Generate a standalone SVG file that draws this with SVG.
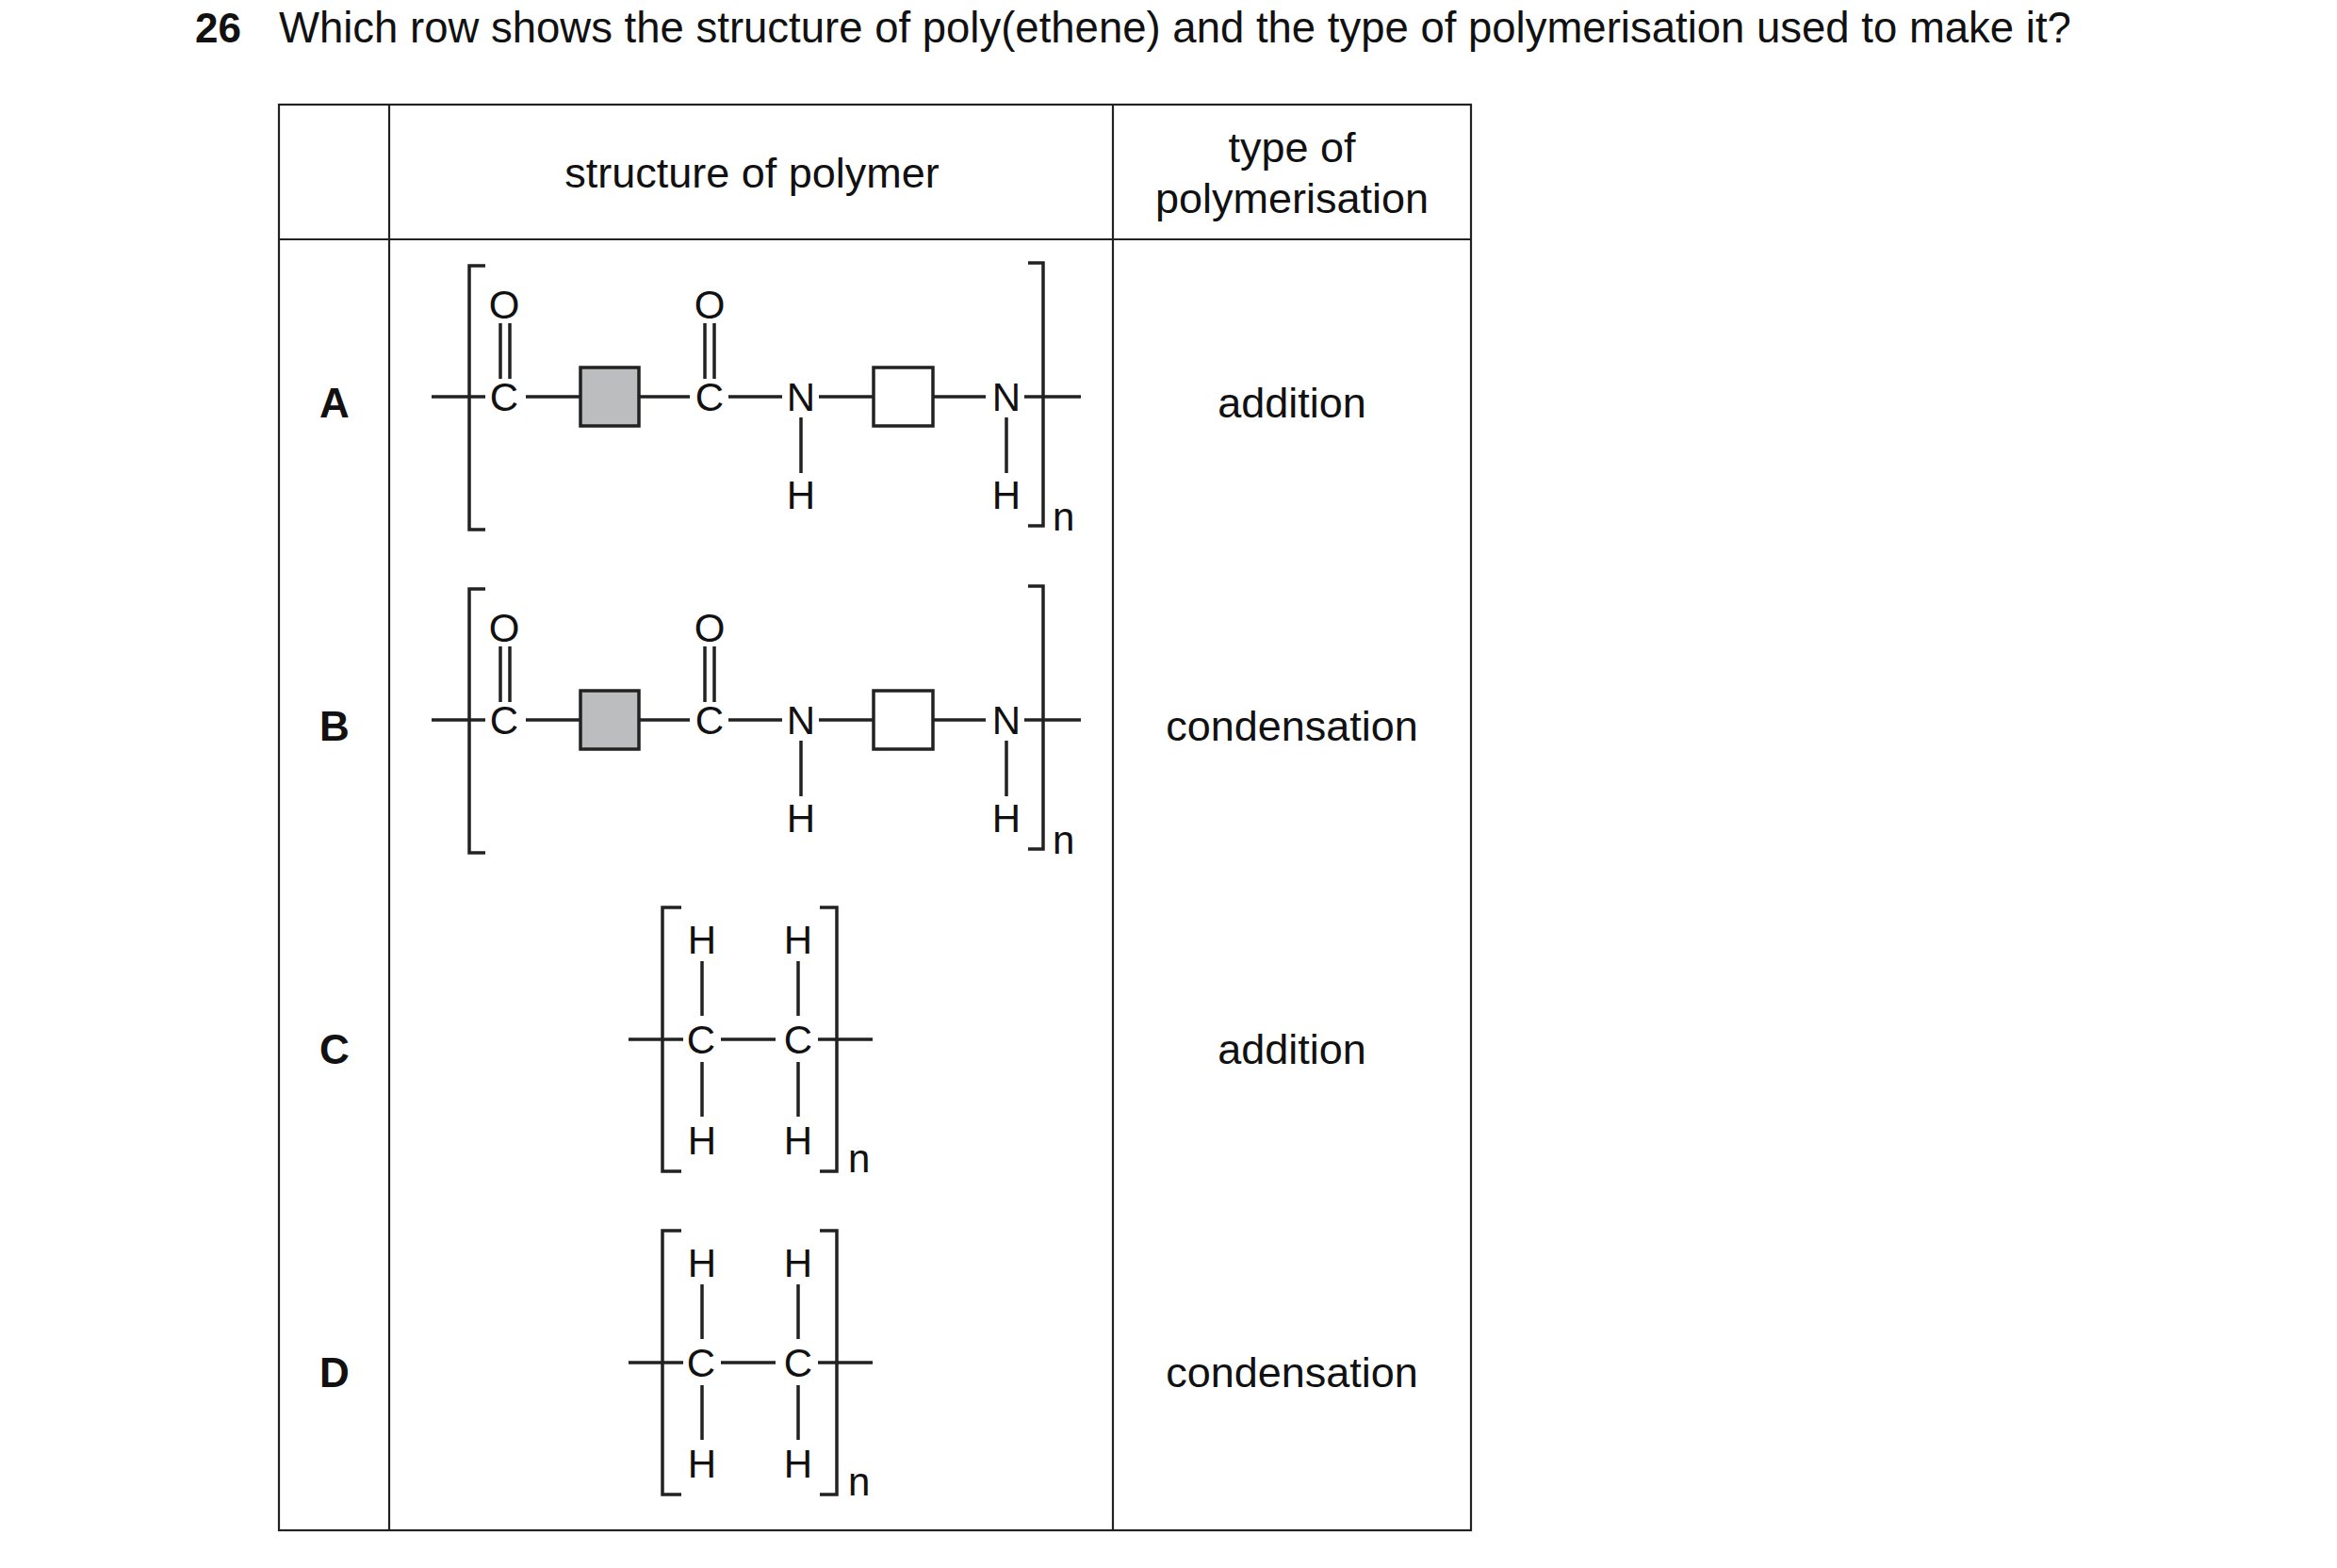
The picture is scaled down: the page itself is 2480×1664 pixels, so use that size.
<svg xmlns="http://www.w3.org/2000/svg" width="2480" height="1664" viewBox="0 0 2480 1664">
<style>
text{font-family:"Liberation Sans",Arial,sans-serif;fill:#111}
.t{font-size:45px}
.l{font-size:44px;font-weight:bold;text-anchor:middle}
.a{font-size:42px;text-anchor:middle;dominant-baseline:central}
.b{stroke:#222;stroke-width:3.5;fill:none}
.g{stroke:#222;stroke-width:2.2;fill:none}
</style>
<rect width="2480" height="1664" fill="#fff"/>
<text x="207" y="45" style="font-size:44px;font-weight:bold">26</text>
<text x="296" y="45" style="font-size:45.5px">Which row shows the structure of poly(ethene) and the type of polymerisation used to make it?</text>
<g id="table" class="g">
<rect x="296" y="111" width="1265" height="1513"/>
<line x1="413" y1="111" x2="413" y2="1624"/>
<line x1="1181" y1="111" x2="1181" y2="1624"/>
<line x1="296" y1="254" x2="1561" y2="254"/>
</g>
<g id="header" class="t" text-anchor="middle">
<text x="798" y="199">structure of polymer</text>
<text x="1371" y="172">type of</text>
<text x="1371" y="226">polymerisation</text>
</g>
<defs>
<g id="amide">
<polyline class="b" points="515,282 498,282 498,562 515,562"/>
<polyline class="b" points="1091,279 1107,279 1107,558 1091,558"/>
<line class="b" x1="458" y1="421" x2="515" y2="421"/>
<text class="a" x="535" y="421">C</text>
<text class="a" x="535" y="323">O</text>
<line class="b" x1="531" y1="343" x2="531" y2="402"/>
<line class="b" x1="541" y1="343" x2="541" y2="402"/>
<line class="b" x1="558" y1="421" x2="616" y2="421"/>
<rect x="616" y="390" width="62" height="62" fill="#bcbdbf" stroke="#222" stroke-width="3.5"/>
<line class="b" x1="678" y1="421" x2="732" y2="421"/>
<text class="a" x="753" y="421">C</text>
<text class="a" x="753" y="323">O</text>
<line class="b" x1="748" y1="343" x2="748" y2="402"/>
<line class="b" x1="758" y1="343" x2="758" y2="402"/>
<line class="b" x1="773" y1="421" x2="830" y2="421"/>
<text class="a" x="850" y="421">N</text>
<line class="b" x1="850" y1="443" x2="850" y2="502"/>
<text class="a" x="850" y="525">H</text>
<line class="b" x1="869" y1="421" x2="927" y2="421"/>
<rect x="927" y="390" width="63" height="62" fill="#fff" stroke="#222" stroke-width="3.5"/>
<line class="b" x1="990" y1="421" x2="1046" y2="421"/>
<text class="a" x="1068" y="421">N</text>
<line class="b" x1="1068" y1="443" x2="1068" y2="502"/>
<text class="a" x="1068" y="525">H</text>
<line class="b" x1="1087" y1="421" x2="1147" y2="421"/>
<text x="1117" y="563" style="font-size:42px">n</text>
</g>
<g id="ethene">
<polyline class="b" points="723,963 703,963 703,1243 723,1243"/>
<polyline class="b" points="870,963 888,963 888,1243 870,1243"/>
<line class="b" x1="667" y1="1103" x2="725" y2="1103"/>
<text class="a" x="744" y="1103">C</text>
<line class="b" x1="765" y1="1103" x2="823" y2="1103"/>
<text class="a" x="847" y="1103">C</text>
<line class="b" x1="868" y1="1103" x2="926" y2="1103"/>
<text class="a" x="745" y="997">H</text>
<text class="a" x="847" y="997">H</text>
<line class="b" x1="745" y1="1020" x2="745" y2="1078"/>
<line class="b" x1="847" y1="1020" x2="847" y2="1078"/>
<line class="b" x1="745" y1="1127" x2="745" y2="1185"/>
<line class="b" x1="847" y1="1127" x2="847" y2="1185"/>
<text class="a" x="745" y="1210">H</text>
<text class="a" x="847" y="1210">H</text>
<text x="900" y="1244" style="font-size:42px">n</text>
</g>
</defs>
<g id="rowA">
<text class="l" x="355" y="443">A</text>
<use href="#amide"/>
<text class="t" x="1371" y="443" text-anchor="middle">addition</text>
</g>
<g id="rowB">
<text class="l" x="355" y="786">B</text>
<use href="#amide" y="343"/>
<text class="t" x="1371" y="786" text-anchor="middle">condensation</text>
</g>
<g id="rowC">
<text class="l" x="355" y="1129">C</text>
<use href="#ethene"/>
<text class="t" x="1371" y="1129" text-anchor="middle">addition</text>
</g>
<g id="rowD">
<text class="l" x="355" y="1472">D</text>
<use href="#ethene" y="343"/>
<text class="t" x="1371" y="1472" text-anchor="middle">condensation</text>
</g>
</svg>
